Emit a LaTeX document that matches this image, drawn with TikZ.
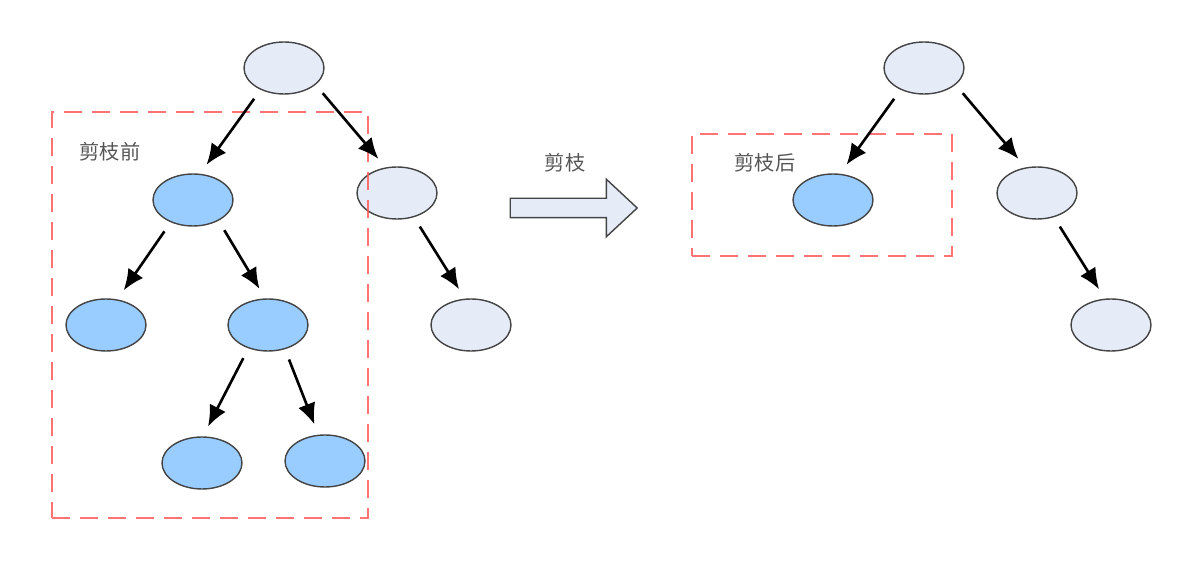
\documentclass[tikz,border=0pt]{standalone}
\usepackage{fontspec}
\newfontfamily\cjk{Noto Sans CJK SC}
\usetikzlibrary{shapes.geometric,shapes.arrows,arrows.meta,positioning}
\definecolor{nodegrey}{HTML}{E6ECF7}
\definecolor{nodeblue}{HTML}{99CCFF}
\definecolor{cutred}{HTML}{FF5A5A}
\definecolor{labelgrey}{HTML}{555555}
\definecolor{edgegrey}{HTML}{444444}

\begin{document}
\begin{tikzpicture}[
    x=0.02cm, y=-0.02cm,
    font=\cjk\fontsize{11.5}{14}\selectfont,
    tree_node/.style={ellipse, draw=edgegrey, line width=0.8pt, minimum width=1.6cm, minimum height=1.04cm, inner sep=0pt},
    grey_node/.style={tree_node, fill=nodegrey},
    blue_node/.style={tree_node, fill=nodeblue},
    cut_box/.style={draw=cutred, line width=1.1pt, dash pattern=on 0.36cm off 0.2cm, opacity=0.85, inner sep=0pt},
    cut_label/.style={text=labelgrey, inner sep=0pt},
    block_arrow/.style={single arrow, draw=edgegrey, fill=nodegrey, line width=0.8pt, minimum height=2.54cm, inner xsep=0pt, inner ysep=0.18cm, single arrow head extend=0.38cm, single arrow tip angle=86},
    arrow/.style={-{Latex[length=0.42cm, width=0.36cm]}, line width=1.5pt, black, shorten <=0.22cm, shorten >=0.22cm}
]
\useasboundingbox (0,0) rectangle (1183,573);

% BEFORE PRUNING
\node[grey_node] (root_l) at (284,68) {};
\node[blue_node] (cut_top) at (193,200) {};
\node[grey_node] (keep_l) at (397,193) {};
\node[blue_node] (leaf_ll) at (106,325) {};
\node[blue_node] (cut_mid) at (268,325) {};
\node[grey_node] (leaf_lr) at (471,325) {};
\node[blue_node] (leaf_bl) at (202,463) {};
\node[blue_node] (leaf_br) at (325,461) {};

\node[cut_box, minimum width=6.32cm, minimum height=8.12cm] (cut_before) at (210,315) {};
\node[cut_label] (before_label) at (110,152) {剪枝前};

% PRUNING STEP
\node[block_arrow] (prune) at (568.5,208) {};
\node[cut_label] (prune_label) at (565,163) {剪枝};

% AFTER PRUNING
\node[grey_node] (root_r) at (924,68) {};
\node[blue_node] (leaf_cut) at (833,200) {};
\node[grey_node] (keep_r) at (1037,193) {};
\node[grey_node] (leaf_rr) at (1111,325) {};

\node[cut_box, minimum width=5.2cm, minimum height=2.44cm] (cut_after) at (822,195) {};
\node[cut_label] (after_label) at (765,163) {剪枝后};

% ARROWS
\draw[arrow] (root_l.223) -- (cut_top.75);
\draw[arrow] (root_l.332) -- (keep_l.114);
\draw[arrow] (cut_top.225) -- (leaf_ll.66);
\draw[arrow] (cut_top.321) -- (cut_mid.96);
\draw[arrow] (keep_l.305) -- (leaf_lr.103);
\draw[arrow] (cut_mid.230) -- (leaf_bl.88);
\draw[arrow] (cut_mid.305) -- (leaf_br.104);

\draw[arrow] (root_r.223) -- (leaf_cut.75);
\draw[arrow] (root_r.332) -- (keep_r.114);
\draw[arrow] (keep_r.305) -- (leaf_rr.103);

\end{tikzpicture}
\end{document}
